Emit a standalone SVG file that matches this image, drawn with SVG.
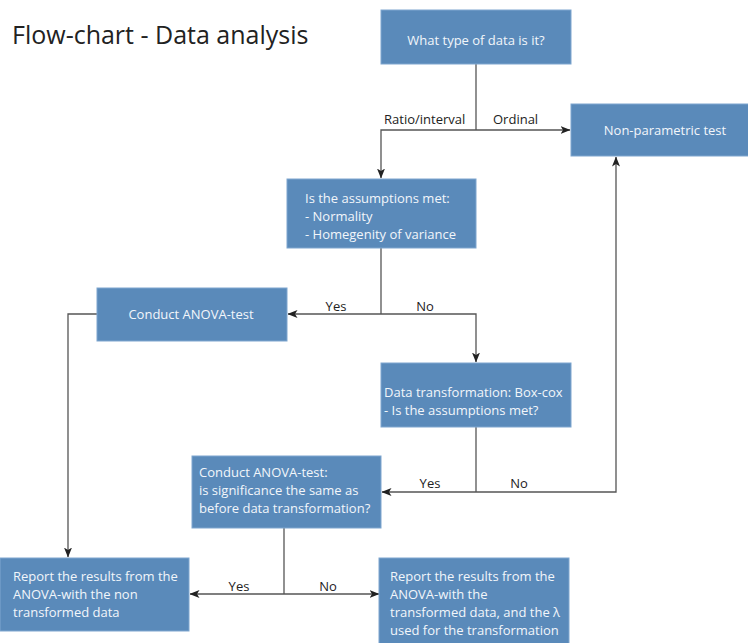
<svg xmlns="http://www.w3.org/2000/svg" width="748" height="643" viewBox="0 0 748 643">
  <style>
    .box { fill: #5a8aba; stroke: #7ea6cf; stroke-width: 1; }
    .nt { font-family: "Open Sans", "Noto Sans", sans-serif; font-size: 13px; fill: #f2f6fa; }
    .lbl { font-family: "Open Sans", "Noto Sans", sans-serif; font-size: 13px; fill: #222222; }
    .title { font-family: "Open Sans", "Noto Sans", sans-serif; font-size: 25px; fill: #222222; }
    .ln { fill: none; stroke: #555555; stroke-width: 1.3; }
    .mid { text-anchor: middle; }
  </style>
  <defs>
    <marker id="arr" viewBox="0 0 10 8" refX="9.5" refY="4" markerWidth="10" markerHeight="8" markerUnits="userSpaceOnUse" orient="auto">
      <path d="M0,0 L10,4 L0,8 L2.5,4 z" fill="#222222"/>
    </marker>
  </defs>

  <rect width="748" height="643" fill="#ffffff"/>

  <text class="title" x="12" y="44">Flow-chart - Data analysis</text>

  <!-- connectors -->
  <g id="connectors">
    <path class="ln" d="M476,64 V130"/>
    <path class="ln" d="M476,130 H570" marker-end="url(#arr)"/>
    <path class="ln" d="M476,130 H381 V178" marker-end="url(#arr)"/>

    <path class="ln" d="M381,248 V314"/>
    <path class="ln" d="M381,314 H288" marker-end="url(#arr)"/>
    <path class="ln" d="M381,314 H476 V362" marker-end="url(#arr)"/>

    <path class="ln" d="M97,314 H68 V557" marker-end="url(#arr)"/>

    <path class="ln" d="M476,427 V492"/>
    <path class="ln" d="M476,492 H382" marker-end="url(#arr)"/>
    <path class="ln" d="M476,492 H616 V157" marker-end="url(#arr)"/>

    <path class="ln" d="M284,528 V594"/>
    <path class="ln" d="M284,594 H190" marker-end="url(#arr)"/>
    <path class="ln" d="M284,594 H379" marker-end="url(#arr)"/>

    <g id="connector-labels">
      <text class="lbl" x="384" y="124">Ratio/interval</text>
      <text class="lbl" x="493" y="124">Ordinal</text>
      <text class="lbl mid" x="336" y="311">Yes</text>
      <text class="lbl mid" x="425" y="311">No</text>
      <text class="lbl mid" x="430" y="488">Yes</text>
      <text class="lbl mid" x="519" y="488">No</text>
      <text class="lbl mid" x="239" y="591">Yes</text>
      <text class="lbl mid" x="328" y="591">No</text>
    </g>
  </g>

  <!-- nodes -->
  <g id="data-type">
    <rect class="box" x="381" y="10" width="190" height="54"/>
    <text class="nt mid" x="476" y="45">What type of data is it?</text>
  </g>

  <g id="non-parametric">
    <rect class="box" x="571" y="104" width="180" height="52"/>
    <text class="nt mid" x="665" y="135">Non-parametric test</text>
  </g>

  <g id="assumptions">
    <rect class="box" x="287" y="179" width="189" height="69"/>
    <text class="nt" x="305" y="203">Is the assumptions met:</text>
    <text class="nt" x="305" y="221">- Normality</text>
    <text class="nt" x="305" y="239">- Homegenity of variance</text>
  </g>

  <g id="anova">
    <rect class="box" x="97" y="288" width="190" height="53"/>
    <text class="nt mid" x="191" y="319">Conduct ANOVA-test</text>
  </g>

  <g id="box-cox">
    <rect class="box" x="381" y="363" width="190" height="64"/>
    <text class="nt" x="384" y="397">Data transformation: Box-cox</text>
    <text class="nt" x="384" y="415">- Is the assumptions met?</text>
  </g>

  <g id="anova-transformed">
    <rect class="box" x="192" y="456" width="189" height="72"/>
    <text class="nt" x="199" y="477">Conduct ANOVA-test:</text>
    <text class="nt" x="199" y="495">is significance the same as</text>
    <text class="nt" x="199" y="513">before data transformation?</text>
  </g>

  <g id="report-original">
    <rect class="box" x="0" y="558" width="189" height="73"/>
    <text class="nt" x="13" y="581">Report the results from the</text>
    <text class="nt" x="13" y="599">ANOVA-with the non</text>
    <text class="nt" x="13" y="617">transformed data</text>
  </g>

  <g id="report-transformed">
    <rect class="box" x="379" y="558" width="190" height="90"/>
    <text class="nt" x="390" y="581">Report the results from the</text>
    <text class="nt" x="390" y="599">ANOVA-with the</text>
    <text class="nt" x="390" y="617">transformed data, and the λ</text>
    <text class="nt" x="390" y="635">used for the transformation</text>
  </g>
</svg>
